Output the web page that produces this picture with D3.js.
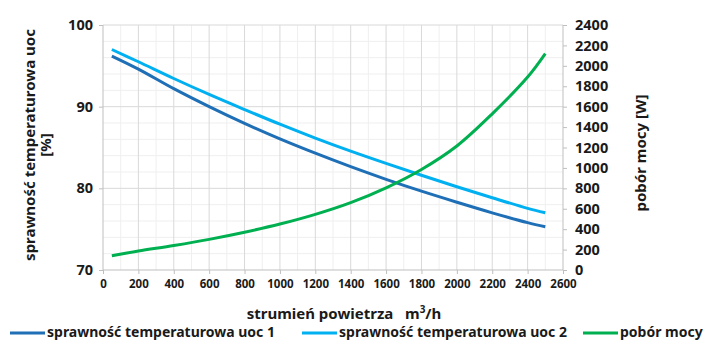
<!DOCTYPE html>
<html>
<head>
<meta charset="utf-8">
<script src="https://d3js.org/d3.v7.min.js"></script>
<style>
  body { margin: 0; background: #fff; }
  text { font-family: "Noto Sans", "Open Sans", sans-serif; font-weight: bold; fill: #1a1a1a; }
</style>
</head>
<body>
<div id="chart"></div>
<script>
// przepływ powietrza [m3/h]
var flow = [50, 200, 400, 600, 800, 1000, 1200, 1400, 1600, 1800, 2000, 2200, 2400, 2500];
// sprawność [%]
var uoc1 = [96.2, 94.6, 92.2, 90.0, 87.95, 86.05, 84.3, 82.65, 81.1, 79.65, 78.3, 77.0, 75.8, 75.3];
var uoc2 = [97.0, 95.5, 93.45, 91.5, 89.65, 87.85, 86.15, 84.55, 83.05, 81.6, 80.2, 78.85, 77.55, 77.0];
// pobór mocy [W]
var power = [140, 186, 240, 300, 370, 450, 545, 660, 805, 985, 1215, 1530, 1890, 2120];

var xTicks = d3.range(0, 2601, 200);
var yLeftTicks = [70, 80, 90, 100];
var yRightTicks = d3.range(0, 2401, 200);

var seriesNames = ['sprawność temperaturowa uoc 1', 'sprawność temperaturowa uoc 2', 'pobór mocy'];
var colors = ['#1f6fb7', '#00b0f0', '#00b050'];

var width = 703, height = 340;
var svg = d3.select('#chart').append('svg')
  .attr('width', width)
  .attr('height', height);

var x = d3.scaleLinear().domain([0, 2600]).range([103, 563]);
var yL = d3.scaleLinear().domain([70, 100]).range([270, 25]);
var yR = d3.scaleLinear().domain([0, 2400]).range([270, 25]);

// siatka pomocnicza
svg.append('g').selectAll('line')
  .data(d3.range(100, 2600, 200))
  .enter().append('line')
  .attr('x1', d => x(d)).attr('x2', d => x(d))
  .attr('y1', 25).attr('y2', 270)
  .attr('stroke', '#efefef');
svg.append('g').selectAll('line')
  .data(d3.range(72, 100, 2).filter(d => d % 10 != 0))
  .enter().append('line')
  .attr('x1', 103).attr('x2', 563)
  .attr('y1', d => yL(d)).attr('y2', d => yL(d))
  .attr('stroke', '#efefef');
// siatka główna
svg.append('g').selectAll('line')
  .data(xTicks.slice(1, -1))
  .enter().append('line')
  .attr('x1', d => x(d)).attr('x2', d => x(d))
  .attr('y1', 25).attr('y2', 270)
  .attr('stroke', '#d9d9d9');
svg.append('g').selectAll('line')
  .data([80, 90, 100])
  .enter().append('line')
  .attr('x1', 103).attr('x2', 563)
  .attr('y1', d => yL(d)).attr('y2', d => yL(d))
  .attr('stroke', '#d9d9d9');

// osie
var fmt = d3.format('d');
var gx = svg.append('g').attr('transform', 'translate(0,270)')
  .call(d3.axisBottom(x).tickValues(xTicks).tickFormat(fmt).tickSize(4).tickPadding(6));
var gl = svg.append('g').attr('transform', 'translate(103,0)')
  .call(d3.axisLeft(yL).tickValues(yLeftTicks).tickFormat(fmt).tickSize(4).tickPadding(6));
var gr = svg.append('g').attr('transform', 'translate(563,0)')
  .call(d3.axisRight(yR).tickValues(yRightTicks).tickFormat(fmt).tickSize(4).tickPadding(8));

[gx, gl, gr].forEach(function(g) {
  g.selectAll('.domain').attr('stroke', '#bfbfbf');
  g.selectAll('.tick line').attr('stroke', '#bfbfbf');
  g.selectAll('text').style('font-family', '"Noto Sans", sans-serif')
    .style('font-weight', 'bold').attr('fill', '#1a1a1a');
});
gx.selectAll('text').style('font-size', '11.5px');
gl.selectAll('text').style('font-size', '14.5px');
gr.selectAll('text').style('font-size', '14.5px');
gx.select('.domain').attr('d', 'M103,0H563');
gl.select('.domain').attr('d', 'M0,25V270');
gr.select('.domain').attr('d', 'M0,25V270');

// linie
var lineL = d3.line().curve(d3.curveCatmullRom.alpha(0.5))
  .x((d, i) => x(flow[i])).y(d => yL(d));
var lineR = d3.line().curve(d3.curveCatmullRom.alpha(0.5))
  .x((d, i) => x(flow[i])).y(d => yR(d));

svg.append('path').datum(uoc1).attr('d', lineL)
  .attr('fill', 'none').attr('stroke', colors[0]).attr('stroke-width', 3);
svg.append('path').datum(uoc2).attr('d', lineL)
  .attr('fill', 'none').attr('stroke', colors[1]).attr('stroke-width', 3);
svg.append('path').datum(power).attr('d', lineR)
  .attr('fill', 'none').attr('stroke', colors[2]).attr('stroke-width', 3);

// tytuły osi
var tl = svg.append('text')
  .attr('transform', 'translate(35,145) rotate(-90)')
  .attr('text-anchor', 'middle')
  .style('font-size', '15px');
tl.append('tspan').attr('x', 0).attr('dy', 0).text('sprawność temperaturowa uoc');
tl.append('tspan').attr('x', 0).attr('dy', 16).text('[%]');

svg.append('text')
  .attr('transform', 'translate(646,153) rotate(-90)')
  .attr('text-anchor', 'middle')
  .style('font-size', '15px')
  .text('pobór mocy [W]');

var tx = svg.append('text')
  .attr('x', 344).attr('y', 319)
  .attr('text-anchor', 'middle')
  .style('font-size', '15px')
  .attr('xml:space', 'preserve');
tx.append('tspan').text('strumień powietrza   m');
tx.append('tspan').attr('dy', -6).style('font-size', '10px').text('3');
tx.append('tspan').attr('dy', 6).text('/h');

// legenda
var legX = [10, 302, 583];
var leg = svg.append('g').selectAll('g')
  .data(seriesNames)
  .enter().append('g')
  .attr('transform', (d, i) => 'translate(' + legX[i] + ',333)');
leg.append('line')
  .attr('x1', 0).attr('x2', 35).attr('y1', 0).attr('y2', 0)
  .attr('stroke', (d, i) => colors[i]).attr('stroke-width', 3);
leg.append('text')
  .attr('x', 37).attr('y', 4)
  .style('font-size', '14px')
  .text(d => d);
</script>
</body>
</html>
